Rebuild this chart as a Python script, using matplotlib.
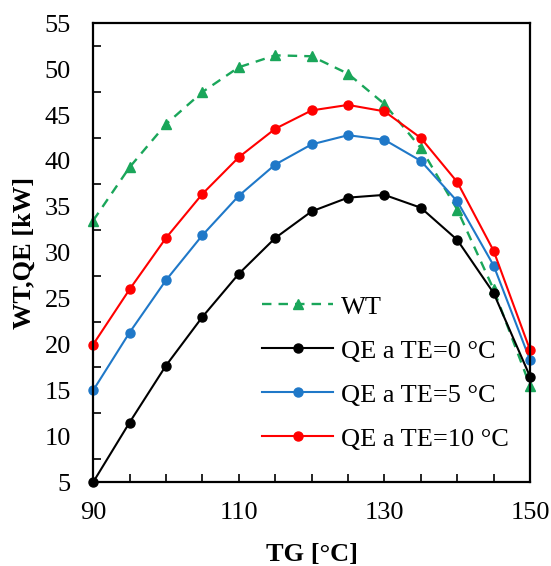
import numpy as np
import matplotlib.pyplot as plt
from matplotlib.ticker import MultipleLocator, FixedLocator

plt.rcParams['font.family'] = ['Liberation Serif', 'DejaVu Serif']

tg = [90, 95, 100, 105, 110, 115, 120, 125, 130, 135, 140, 145, 150]
wt = [33.5, 39.3, 44.0, 47.5, 50.2, 51.5, 51.4, 49.5, 46.2, 41.4, 34.7, 26.0, 15.5]
qe0 = [5.0, 11.5, 17.7, 23.0, 27.7, 31.6, 34.5, 36.0, 36.3, 34.9, 31.4, 25.6, 16.5]
qe5 = [15.0, 21.3, 27.0, 31.9, 36.2, 39.6, 41.8, 42.8, 42.3, 40.0, 35.6, 28.6, 18.3]
qe10 = [20.0, 26.0, 31.6, 36.4, 40.4, 43.5, 45.5, 46.1, 45.4, 42.5, 37.7, 30.2, 19.4]

fig = plt.figure(figsize=(5.51, 5.66), dpi=100)
ax = fig.add_axes([0.169, 0.148, 0.793, 0.811])

ax.plot(tg, wt, '--', color='#1AA65A', marker='^', markersize=6.5, linewidth=1.7,
        dashes=(4, 3), label='WT', clip_on=False)
ax.plot(tg, qe0, '-', color='black', marker='o', markersize=6.5, linewidth=1.5,
        label='QE a TE=0 °C', clip_on=False)
ax.plot(tg, qe5, '-', color='#1F78C8', marker='o', markersize=6.5, linewidth=1.5,
        label='QE a TE=5 °C', clip_on=False)
ax.plot(tg, qe10, '-', color='#FF0000', marker='o', markersize=6.5, linewidth=1.5,
        label='QE a TE=10 °C', clip_on=False)

ax.set_xlim(90, 150)
ax.set_ylim(5, 55)
ax.xaxis.set_major_locator(FixedLocator([90, 110, 130, 150]))
ax.xaxis.set_minor_locator(MultipleLocator(5))
ax.yaxis.set_major_locator(MultipleLocator(5))
ax.yaxis.set_minor_locator(FixedLocator(np.arange(7.5, 55, 5)))

ax.tick_params(axis='x', which='both', direction='in', length=6, width=1.2,
               labelsize=19, pad=14)
ax.tick_params(axis='y', which='major', length=0, labelsize=19, pad=16)
ax.tick_params(axis='y', which='minor', direction='in', length=6, width=1.2)
for s in ax.spines.values():
    s.set_linewidth(1.6)

ax.set_xlabel('TG [°C]', fontsize=19, fontweight='bold', labelpad=14)
ax.set_ylabel('WT,QE [kW]', fontsize=19, fontweight='bold', labelpad=6)

ax.legend(loc='lower left', bbox_to_anchor=(0.332, 0.017), frameon=False,
          fontsize=19, labelspacing=0.78, handlelength=2.7, handletextpad=0.3)

fig.savefig('out.png', dpi=100)
